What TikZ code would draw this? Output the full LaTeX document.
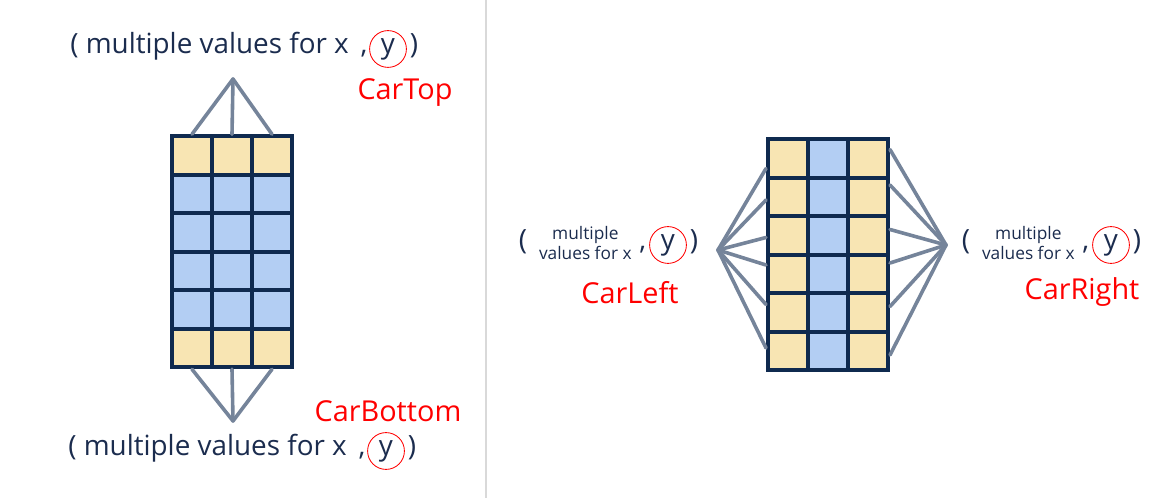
\documentclass[tikz,border=0pt]{standalone}
\usepackage{fontspec}
\setmainfont{Open Sans}
\usetikzlibrary{positioning, calc}

\definecolor{cellnavy}{HTML}{0F2A4F}
\definecolor{cellsand}{HTML}{F8E5B3}
\definecolor{cellsky}{HTML}{B3CEF3}
\definecolor{linkgray}{HTML}{75849A}
\definecolor{textnavy}{HTML}{1B2C4E}
\definecolor{splitgray}{HTML}{D9D9D9}

\begin{document}
\begin{tikzpicture}[x=0.025cm, y=-0.025cm, font=\fontsize{19.8}{24}\selectfont, text=textnavy]
		\tikzstyle{cell} = [rectangle, draw=cellnavy, line width=0.1cm, minimum width=1cm, minimum height=0.9625cm, inner sep=0pt]
		\tikzstyle{link} = [draw=linkgray, line width=0.09cm, line cap=round]
		\tikzstyle{ymark} = [circle, draw=red, line width=0.6pt, minimum size=0.92cm, inner sep=0pt]
		\tikzstyle{carname} = [text=red, font=\fontsize{20.5}{24}\selectfont]
		\tikzstyle{small} = [align=center, font=\fontsize{12.3}{14.5}\selectfont, inner sep=0pt]
		\tikzstyle{tight} = [inner sep=2pt]
		
		\useasboundingbox (0,0) rectangle (1159,498);
		
		% divider between the two halves
		\draw [splitgray, line width=0.05cm] (486,0) -- (486,498);
		
		% Left grid (rows)
		\foreach \r/\shade in {1/cellsand, 2/cellsky, 3/cellsky, 4/cellsky, 5/cellsky, 6/cellsand}
			\foreach \c in {1,2,3}
				\node (l-\r-\c) [cell, fill=\shade] at ({152+40*\c}, {117+38.5*\r}) {};
		
		% Right grid (columns)
		\foreach \r in {1,...,6}
			\foreach \c/\shade in {1/cellsand, 2/cellsky, 3/cellsand}
				\node (r-\r-\c) [cell, fill=\shade] at ({748+40*\c}, {120+38.5*\r}) {};
		
		% Apex points
		\coordinate (topapex) at (233,79);
		\coordinate (botapex) at (233,421);
		\coordinate (leftapex) at (718,250);
		\coordinate (rightapex) at (946,245);
		
		% Links
		\foreach \c in {1,2,3} {
			\draw [link] (topapex) -- (l-1-\c.north);
			\draw [link] (botapex) -- (l-6-\c.south);
		}
		\foreach \r/\dl/\dr in {1/10/-9, 2/3/-12, 3/2/-6, 4/-9/-11, 5/-8/-6, 6/-3/4} {
			\draw [link] (leftapex) -- ($(r-\r-1.west)+(0,\dl)$);
			\draw [link] (rightapex) -- ($(r-\r-3.east)+(0,\dr)$);
		}
		
		% Top label
		\node (topy) [ymark] at (388,49) {y};
		\node (toplead) [tight, anchor=base east, xshift=1pt] at (topy.base west) {( multiple values for x\, ,};
		\node (topclose) [tight, anchor=base west] at (topy.base east) {)};
		\node (cartop) [carname] at (405,93) {CarTop};
		
		% Bottom label
		\node (boty) [ymark] at (386,451) {y};
		\node (botlead) [tight, anchor=base east, xshift=1pt] at (boty.base west) {( multiple values for x\, ,};
		\node (botclose) [tight, anchor=base west] at (boty.base east) {)};
		\node (carbottom) [carname] at (388,411) {CarBottom};
		
		% Left label
		\node (lefty) [ymark] at (668,245) {y};
		\node (leftcomma) [tight, anchor=base east] at (lefty.base west) {,};
		\node (leftvals) [small, anchor=east, xshift=-3pt, yshift=1.5pt] at (leftcomma.west |- lefty) {multiple\\values for x};
		\node (leftopen) [tight, anchor=base east, xshift=-6pt] at (leftvals.west |- leftcomma.base) {(};
		\node (leftclose) [tight, anchor=base west] at (lefty.base east) {)};
		\node (carleft) [carname] at (630,293) {CarLeft};
		
		% Right label
		\node (righty) [ymark] at (1111,245) {y};
		\node (rightcomma) [tight, anchor=base east] at (righty.base west) {,};
		\node (rightvals) [small, anchor=east, xshift=-3pt, yshift=1.5pt] at (rightcomma.west |- righty) {multiple\\values for x};
		\node (rightopen) [tight, anchor=base east, xshift=-6pt] at (rightvals.west |- rightcomma.base) {(};
		\node (rightclose) [tight, anchor=base west] at (righty.base east) {)};
		\node (carright) [carname] at (1082,292) {CarRight};
	\end{tikzpicture}
\end{document}
